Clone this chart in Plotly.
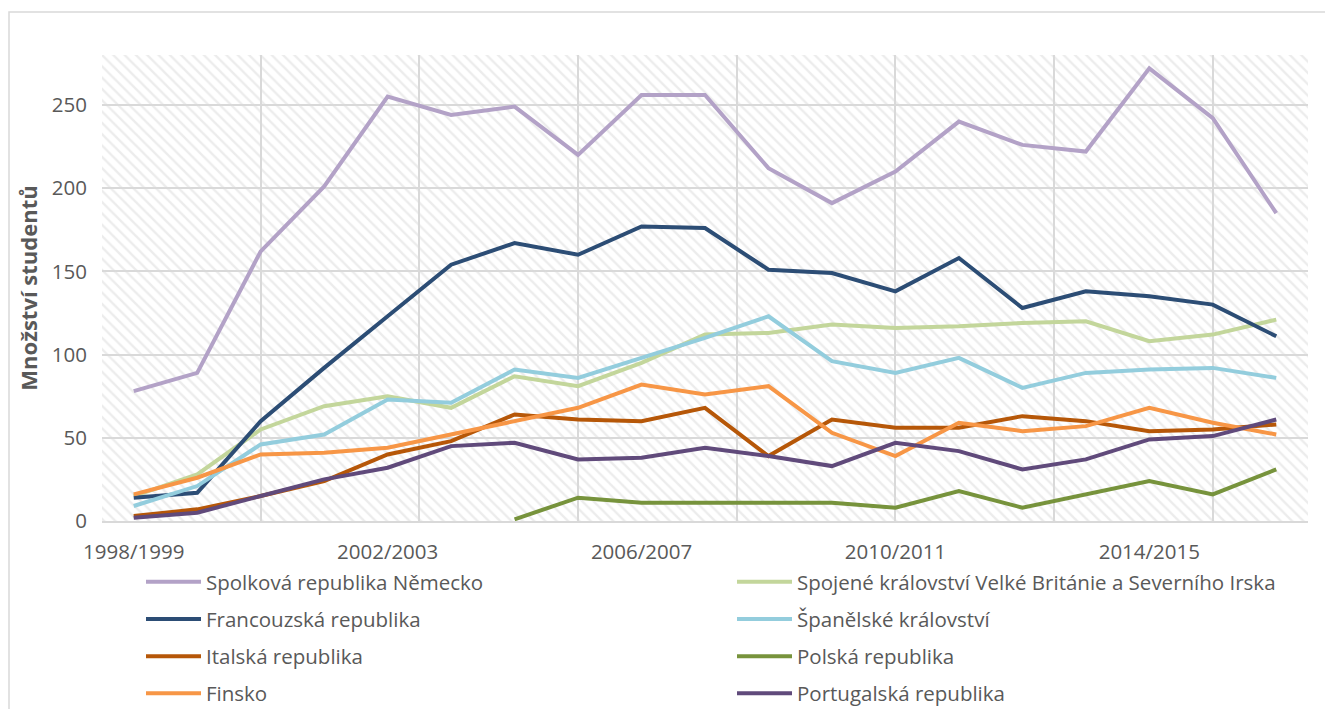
import plotly.graph_objects as go

years = ["1998/1999", "1999/2000", "2000/2001", "2001/2002", "2002/2003", "2003/2004",
         "2004/2005", "2005/2006", "2006/2007", "2007/2008", "2008/2009", "2009/2010",
         "2010/2011", "2011/2012", "2012/2013", "2013/2014", "2014/2015", "2015/2016",
         "2016/2017"]

nemecko = [78, 89, 162, 201, 255, 244, 249, 220, 256, 256, 212, 191, 210, 240, 226, 222, 272, 242, 185]
uk = [15, 28, 55, 69, 75, 68, 87, 81, 95, 112, 113, 118, 116, 117, 119, 120, 108, 112, 121]
francie = [14, 17, 60, 92, 123, 154, 167, 160, 177, 176, 151, 149, 138, 158, 128, 138, 135, 130, 111]
spanelsko = [9, 21, 46, 52, 73, 71, 91, 86, 98, 110, 123, 96, 89, 98, 80, 89, 91, 92, 86]
italie = [3, 7, 15, 24, 40, 48, 64, 61, 60, 68, 39, 61, 56, 56, 63, 60, 54, 55, 58]
polsko = [None, None, None, None, None, None, 1, 14, 11, 11, 11, 11, 8, 18, 8, 16, 24, 16, 31]
finsko = [16, 26, 40, 41, 44, 52, 60, 68, 82, 76, 81, 53, 39, 59, 54, 57, 68, 59, 52]
portugalsko = [2, 5, 15, 25, 32, 45, 47, 37, 38, 44, 39, 33, 47, 42, 31, 37, 49, 51, 61]

series = [
    ("Spolková republika Německo", nemecko, "#b3a2c7", "legend"),
    ("Spojené království Velké Británie a Severního Irska", uk, "#c3d69b", "legend2"),
    ("Francouzská republika", francie, "#2c4d75", "legend"),
    ("Španělské království", spanelsko, "#93cddd", "legend2"),
    ("Italská republika", italie, "#b65708", "legend"),
    ("Polská republika", polsko, "#77933c", "legend2"),
    ("Finsko", finsko, "#f79646", "legend"),
    ("Portugalská republika", portugalsko, "#604a7b", "legend2"),
]

y_max = 280
y_ticks = [0, 50, 100, 150, 200, 250]
label_every = 4

xi = list(range(len(years)))
FONT = "Open Sans, sans-serif"
FS = 20.5
GRID = "#d9d9d9"
TXT = "#595959"

fig = go.Figure()

# hatched plot-area background
fig.add_trace(go.Bar(
    x=[(len(years) - 1) / 2], y=[y_max], width=[len(years)],
    marker=dict(color="rgba(0,0,0,0)", line=dict(width=0),
                pattern=dict(shape="\\", fgcolor="#dadada", bgcolor="rgba(0,0,0,0)",
                             size=8, solidity=0.3)),
    showlegend=False, hoverinfo="skip",
))

for i, (name, vals, color, lg) in enumerate(series):
    fig.add_trace(go.Scatter(
        x=xi, y=vals, name=name, mode="lines",
        line=dict(color=color, width=4),
        legend=lg, legendgroup=name,
    ))

# page offset of 8px (body margin) is compensated
OFF = 8
W, H = 1333 - OFF, 709 - OFF
ml, mr, mt, mb = 102 - OFF, 25, 55 - OFF, 188
pw = W - ml - mr
ph = H - mt - mb

def px_x(p):
    return (p - OFF - ml) / pw

def px_y(p):
    return (H - mb - (p - OFF)) / ph

fig.update_layout(
    width=W, height=H,
    margin=dict(l=ml, r=mr, t=mt, b=mb, autoexpand=False),
    paper_bgcolor="white", plot_bgcolor="white",
    font=dict(family=FONT, size=FS, color=TXT),
    bargap=0,
    xaxis=dict(
        range=[-0.5, len(years) - 0.5],
        tickvals=xi[::label_every], ticktext=years[::label_every],
        showgrid=False, showline=True, linecolor=GRID, linewidth=2,
        ticks="", zeroline=False, ticklabelstandoff=11,
        tickfont=dict(size=FS, color=TXT),
        minor=dict(tickvals=[2 + 2.5 * k for k in range(7)], showgrid=True,
                   gridcolor=GRID, gridwidth=2, ticks=""),
        fixedrange=True,
    ),
    yaxis=dict(
        range=[0, y_max], tickvals=y_ticks,
        showgrid=True, gridcolor=GRID, gridwidth=2,
        zeroline=False, showline=False, ticks="",
        ticklabelstandoff=14,
        tickfont=dict(size=FS, color=TXT),
        title=dict(text="<b>Množství studentů</b>", font=dict(size=22, color=TXT), standoff=8),
    ),
    legend=dict(
        x=px_x(141), y=px_y(562), xanchor="left", yanchor="top",
        orientation="v", tracegroupgap=7.5, bgcolor="rgba(0,0,0,0)",
        font=dict(size=FS, color=TXT), itemwidth=55,
    ),
    legend2=dict(
        x=px_x(732), y=px_y(562), xanchor="left", yanchor="top",
        orientation="v", tracegroupgap=7.5, bgcolor="rgba(0,0,0,0)",
        font=dict(size=FS, color=TXT), itemwidth=55,
    ),
    shapes=[dict(type="rect", xref="paper", yref="paper",
                 x0=px_x(9), x1=px_x(1331), y0=px_y(760), y1=px_y(12),
                 line=dict(color=GRID, width=1.5), layer="below")],
)

fig.write_html("out.html")
